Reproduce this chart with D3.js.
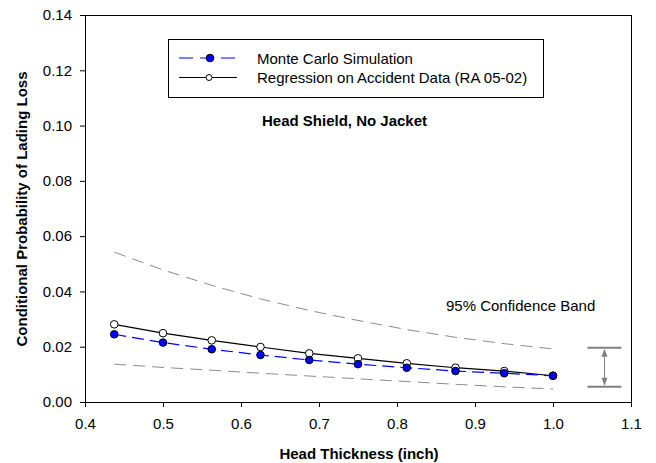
<!DOCTYPE html>
<html><head><meta charset="utf-8">
<script src="https://cdn.jsdelivr.net/npm/d3@7"></script>
<style>body{margin:0;background:#fff;} svg{display:block;font-family:"Liberation Sans",Arial,sans-serif;}</style>
</head><body>
<svg id="c" width="656" height="463"></svg>
<script>
const thickness = [0.4375, 0.5, 0.5625, 0.625, 0.6875, 0.75, 0.8125, 0.875, 0.9375, 1.0];
const monteCarlo = [0.0245, 0.0215, 0.0191, 0.0170, 0.0152, 0.0137, 0.0124, 0.0112, 0.0104, 0.0095];
const regression = [0.0281, 0.0249, 0.0223, 0.0199, 0.0176, 0.0158, 0.0140, 0.0124, 0.0112, 0.0095];
const bandUpper = [0.0542, 0.0478, 0.0422, 0.0373, 0.0331, 0.0295, 0.0262, 0.0234, 0.0211, 0.0192];
const bandLower = [0.0137, 0.0125, 0.0115, 0.0104, 0.0094, 0.0084, 0.0074, 0.0064, 0.0055, 0.0047];
const xTicks = [0.4, 0.5, 0.6, 0.7, 0.8, 0.9, 1.0, 1.1];
const yTicks = [0.00, 0.02, 0.04, 0.06, 0.08, 0.10, 0.12, 0.14];
const arrowX = 1.066, arrowTop = 0.0196, arrowBottom = 0.0055;

const svg = d3.select("#c");
const L = 85, R = 631, T = 15, B = 402;
const x = d3.scaleLinear().domain([0.4, 1.1]).range([L, R]);
const y = d3.scaleLinear().domain([0, 0.14]).range([B, T]);

// frame top/right
svg.append("path").attr("d", `M${L},${T}H${R}V${B}`).attr("fill","none").attr("stroke","#000").attr("stroke-width",1).attr("shape-rendering","crispEdges");

const xa = svg.append("g").attr("transform",`translate(0,${B})`)
  .call(d3.axisBottom(x).tickValues(xTicks).tickFormat(d3.format(".1f")).tickSizeOuter(0).tickSize(5).tickPadding(11));
const ya = svg.append("g").attr("transform",`translate(${L},0)`)
  .call(d3.axisLeft(y).tickValues(yTicks).tickFormat(d3.format(".2f")).tickSizeOuter(0).tickSize(5).tickPadding(8));
[xa, ya].forEach(g => {
  g.selectAll("text").attr("font-size", 15).attr("fill","#000").attr("font-family","Liberation Sans, Arial, sans-serif");
  g.select(".domain").attr("stroke","#000");
  g.selectAll("line").attr("stroke","#000");
});

const pts = arr => thickness.map((t, i) => [x(t), y(arr[i])]);
const line = d3.line();

// confidence band
[bandUpper, bandLower].forEach(a => {
  svg.append("path").attr("d", line(pts(a))).attr("fill","none").attr("stroke","#8c8c8c").attr("stroke-width",1).attr("stroke-dasharray","12,7");
});

// regression
svg.append("path").attr("d", line(pts(regression))).attr("fill","none").attr("stroke","#000").attr("stroke-width",1.2);
svg.selectAll(".reg").data(pts(regression)).join("circle").attr("cx",d=>d[0]).attr("cy",d=>d[1]).attr("r",3.8).attr("fill","#fff").attr("stroke","#000").attr("stroke-width",1);

// monte carlo
svg.append("path").attr("d", line(pts(monteCarlo))).attr("fill","none").attr("stroke","#0000ff").attr("stroke-width",1.2).attr("stroke-dasharray","12,6");
svg.selectAll(".mc").data(pts(monteCarlo)).join("circle").attr("cx",d=>d[0]).attr("cy",d=>d[1]).attr("r",3.8).attr("fill","#0000ff").attr("stroke","#000").attr("stroke-width",1);

// confidence band arrow annotation
const ax = x(arrowX), ay1 = y(arrowTop), ay2 = y(arrowBottom);
const ag = svg.append("g").attr("stroke","#808080").attr("fill","#808080");
ag.append("line").attr("x1",ax-17).attr("x2",ax+17).attr("y1",ay1).attr("y2",ay1).attr("stroke-width",2);
ag.append("line").attr("x1",ax-17).attr("x2",ax+17).attr("y1",ay2).attr("y2",ay2).attr("stroke-width",2);
ag.append("line").attr("x1",ax).attr("x2",ax).attr("y1",ay1+2).attr("y2",ay2-2).attr("stroke-width",1);
ag.append("path").attr("d",`M${ax},${ay1+1}l-3,8h6z`).attr("stroke","none");
ag.append("path").attr("d",`M${ax},${ay2-1}l-3,-8h6z`).attr("stroke","none");
svg.append("text").attr("x", 446).attr("y", 311).attr("font-size",15).attr("fill","#000").text("95% Confidence Band");

// legend
svg.append("rect").attr("x",168.5).attr("y",39.5).attr("width",375).attr("height",58).attr("fill","#fff").attr("stroke","#000").attr("stroke-width",1);
const lg1 = 58, lg2 = 77.5;
svg.append("line").attr("x1",179).attr("x2",237).attr("y1",lg1).attr("y2",lg1).attr("stroke","#0000ff").attr("stroke-width",1.2).attr("stroke-dasharray","14,7");
svg.append("circle").attr("cx",210).attr("cy",lg1).attr("r",3.8).attr("fill","#0000ff").attr("stroke","#000");
svg.append("line").attr("x1",179).attr("x2",237).attr("y1",lg2).attr("y2",lg2).attr("stroke","#000").attr("stroke-width",1.2);
svg.append("circle").attr("cx",209).attr("cy",lg2).attr("r",3).attr("fill","#fff").attr("stroke","#000");
svg.append("text").attr("x",257).attr("y",lg1+5.5).attr("font-size",15).text("Monte Carlo Simulation");
svg.append("text").attr("x",257).attr("y",lg2+5.5).attr("font-size",15).text("Regression on Accident Data (RA 05-02)");

// annotation title
svg.append("text").attr("x",344.5).attr("y",126).attr("text-anchor","middle").attr("font-size",15).attr("font-weight","bold").text("Head Shield, No Jacket");

// axis titles
svg.append("text").attr("x",359).attr("y",459).attr("text-anchor","middle").attr("font-size",15).attr("font-weight","bold").text("Head Thickness (inch)");
svg.append("text").attr("transform","translate(27,209) rotate(-90)").attr("text-anchor","middle").attr("font-size",15).attr("font-weight","bold").text("Conditional Probability of Lading Loss");
</script>
</body></html>
